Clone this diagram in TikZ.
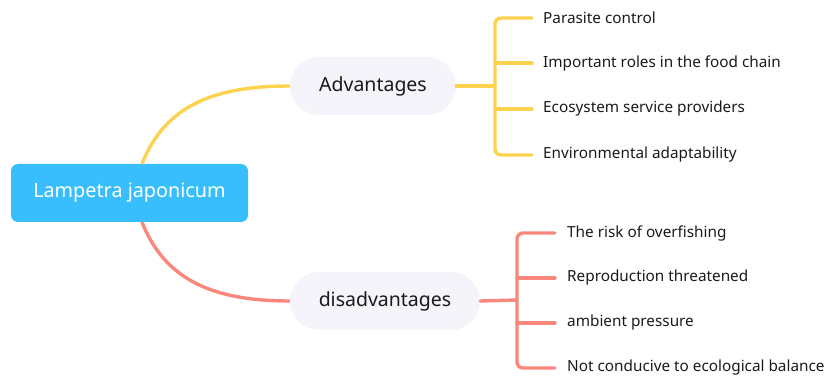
\documentclass[tikz,border=0pt]{standalone}
\usepackage{fontspec}
\setmainfont{Noto Sans}
\definecolor{rootblue}{HTML}{38BEFC}
\definecolor{pillbg}{HTML}{F4F4FA}
\definecolor{advy}{HTML}{FDD24E}
\definecolor{disr}{HTML}{FA877C}
\definecolor{txt}{HTML}{1A1A1A}
\begin{document}
\begin{tikzpicture}[x=1pt,y=-1pt,
  rootbox/.style={fill=rootblue, rounded corners=7pt, minimum width=237pt, minimum height=58pt, text=white, font=\fontsize{19.8}{22}\selectfont, inner sep=0pt},
  pill/.style={fill=pillbg, rounded corners=29pt, minimum height=58pt, text=txt, font=\fontsize{19.5}{22}\selectfont, inner sep=0pt},
  leaf/.style={anchor=west, text=txt, font=\fontsize{15.3}{17}\selectfont, inner sep=0pt},
  conn/.style={line width=3.4pt, line cap=round},
]
\useasboundingbox (0,0) rectangle (829,379);
\node[rootbox] (root) at (129.5,193) {Lampetra japonicum};
\node[pill, minimum width=166pt] (adv) at (373,86) {Advantages};
\node[pill, minimum width=190pt] (dis) at (385,301) {disadvantages};

\node[leaf] (a1) at (543,18) {Parasite control};
\node[leaf] (a2) at (543,63) {Important roles in the food chain};
\node[leaf] (a3) at (543,109) {Ecosystem service providers};
\node[leaf] (a4) at (543,155) {Environmental adaptability};

\node[leaf] (d1) at (567,233) {The risk of overfishing};
\node[leaf] (d2) at (567,278) {Reproduction threatened};
\node[leaf] (d3) at (567,323) {ambient pressure};
\node[leaf] (d4) at (567,368) {Not conducive to ecological balance};

\coordinate (rt) at (142,164);
\coordinate (rb) at (142,222);

% main curves
\draw[conn, advy, line cap=butt] (rt) .. controls (165,105) and (215,86) .. (adv.west);
\draw[conn, disr, line cap=butt] (rb) .. controls (165,281) and (215,301) .. (dis.west);

% advantages bracket
\coordinate (av) at (495,86);
\draw[conn, advy] (adv.east) -- (av);
\draw[conn, advy, rounded corners=6pt] ([xshift=-11pt]a1.west) -- (495,18) -- (495,155) -- ([xshift=-11pt]a4.west);
\draw[conn, advy] (495,63) -- ([xshift=-11pt]a2.west);
\draw[conn, advy] (495,109) -- ([xshift=-11pt]a3.west);

% disadvantages bracket
\coordinate (dv) at (517,300);
\draw[conn, disr] (dis.east) -- (dv);
\draw[conn, disr, rounded corners=6pt] ([xshift=-12pt]d1.west) -- (517,233) -- (517,368) -- ([xshift=-12pt]d4.west);
\draw[conn, disr] (517,278) -- ([xshift=-12pt]d2.west);
\draw[conn, disr] (517,323) -- ([xshift=-12pt]d3.west);
\end{tikzpicture}
\end{document}
